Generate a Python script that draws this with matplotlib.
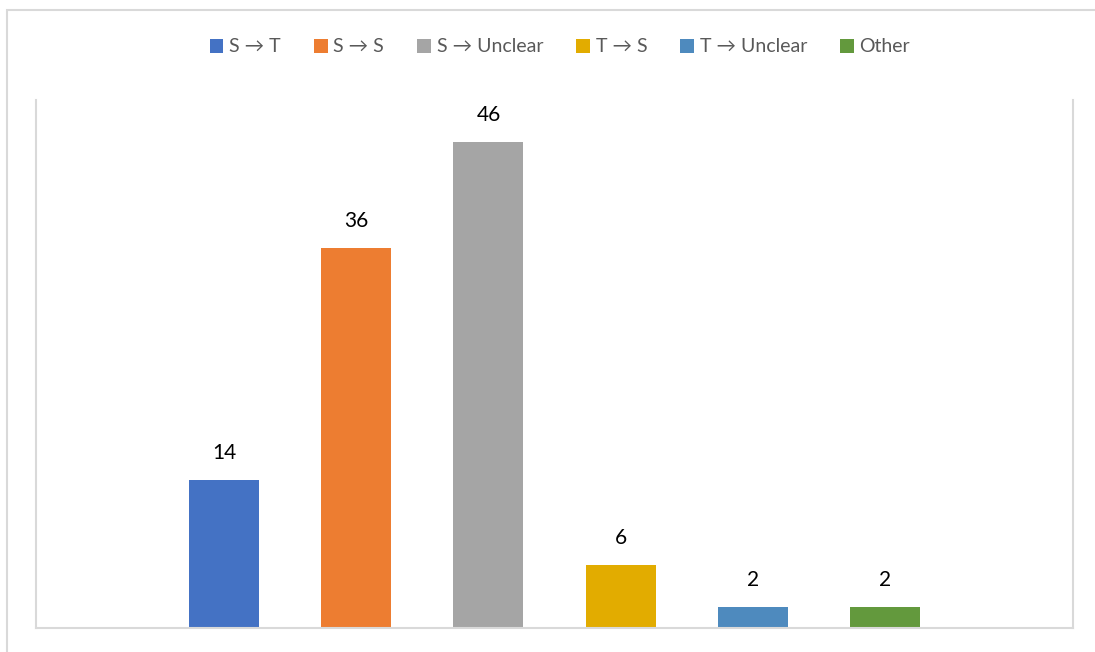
import matplotlib.pyplot as plt
from matplotlib.patches import Rectangle

plt.rcParams['font.family'] = ['Lato', 'DejaVu Sans']

labels = ['S \u2192 T', 'S \u2192 S', 'S \u2192 Unclear', 'T \u2192 S', 'T \u2192 Unclear', 'Other']
values = [14, 36, 46, 6, 2, 2]
colors = ['#4472C4', '#ED7D31', '#A5A5A5', '#E2AC00', '#4E8ABE', '#63993D']

fig = plt.figure(figsize=(10.95, 6.52), dpi=100)
ax = fig.add_axes([36 / 1095, 1 - 628 / 652, (1073 - 36) / 1095, (628 - 100) / 652])

frame = '#D9D9D9'
for i, (lab, v, c) in enumerate(zip(labels, values, colors)):
    ax.bar(i, v, width=0.53, color=c, label=lab, zorder=2)
    ax.text(i, v + 1.6, str(v), ha='center', va='bottom', fontsize=15, color='#000000')

ax.set_xlim(-1.424, 6.424)
ax.set_ylim(0, 50)
ax.set_xticks([])
ax.set_yticks([])
ax.spines['top'].set_visible(False)
for s in ['left', 'right', 'bottom']:
    ax.spines[s].set_color(frame)
    ax.spines[s].set_linewidth(1.5)

# outer chart border (cut off at right/bottom)
fig.patches.append(Rectangle((6.5 / 1095, -0.05), 1.1, 1 - 9.5 / 652 + 0.05,
                             transform=fig.transFigure, fill=False,
                             edgecolor=frame, linewidth=1.5))

fig.legend(loc='center', bbox_to_anchor=(560 / 1095, 1 - 47 / 652), ncol=6,
           frameon=False, fontsize=14, handlelength=0.7, handleheight=0.7,
           handletextpad=0.3, columnspacing=1.7, labelcolor='#595959')

fig.savefig('out.png', dpi=100)
